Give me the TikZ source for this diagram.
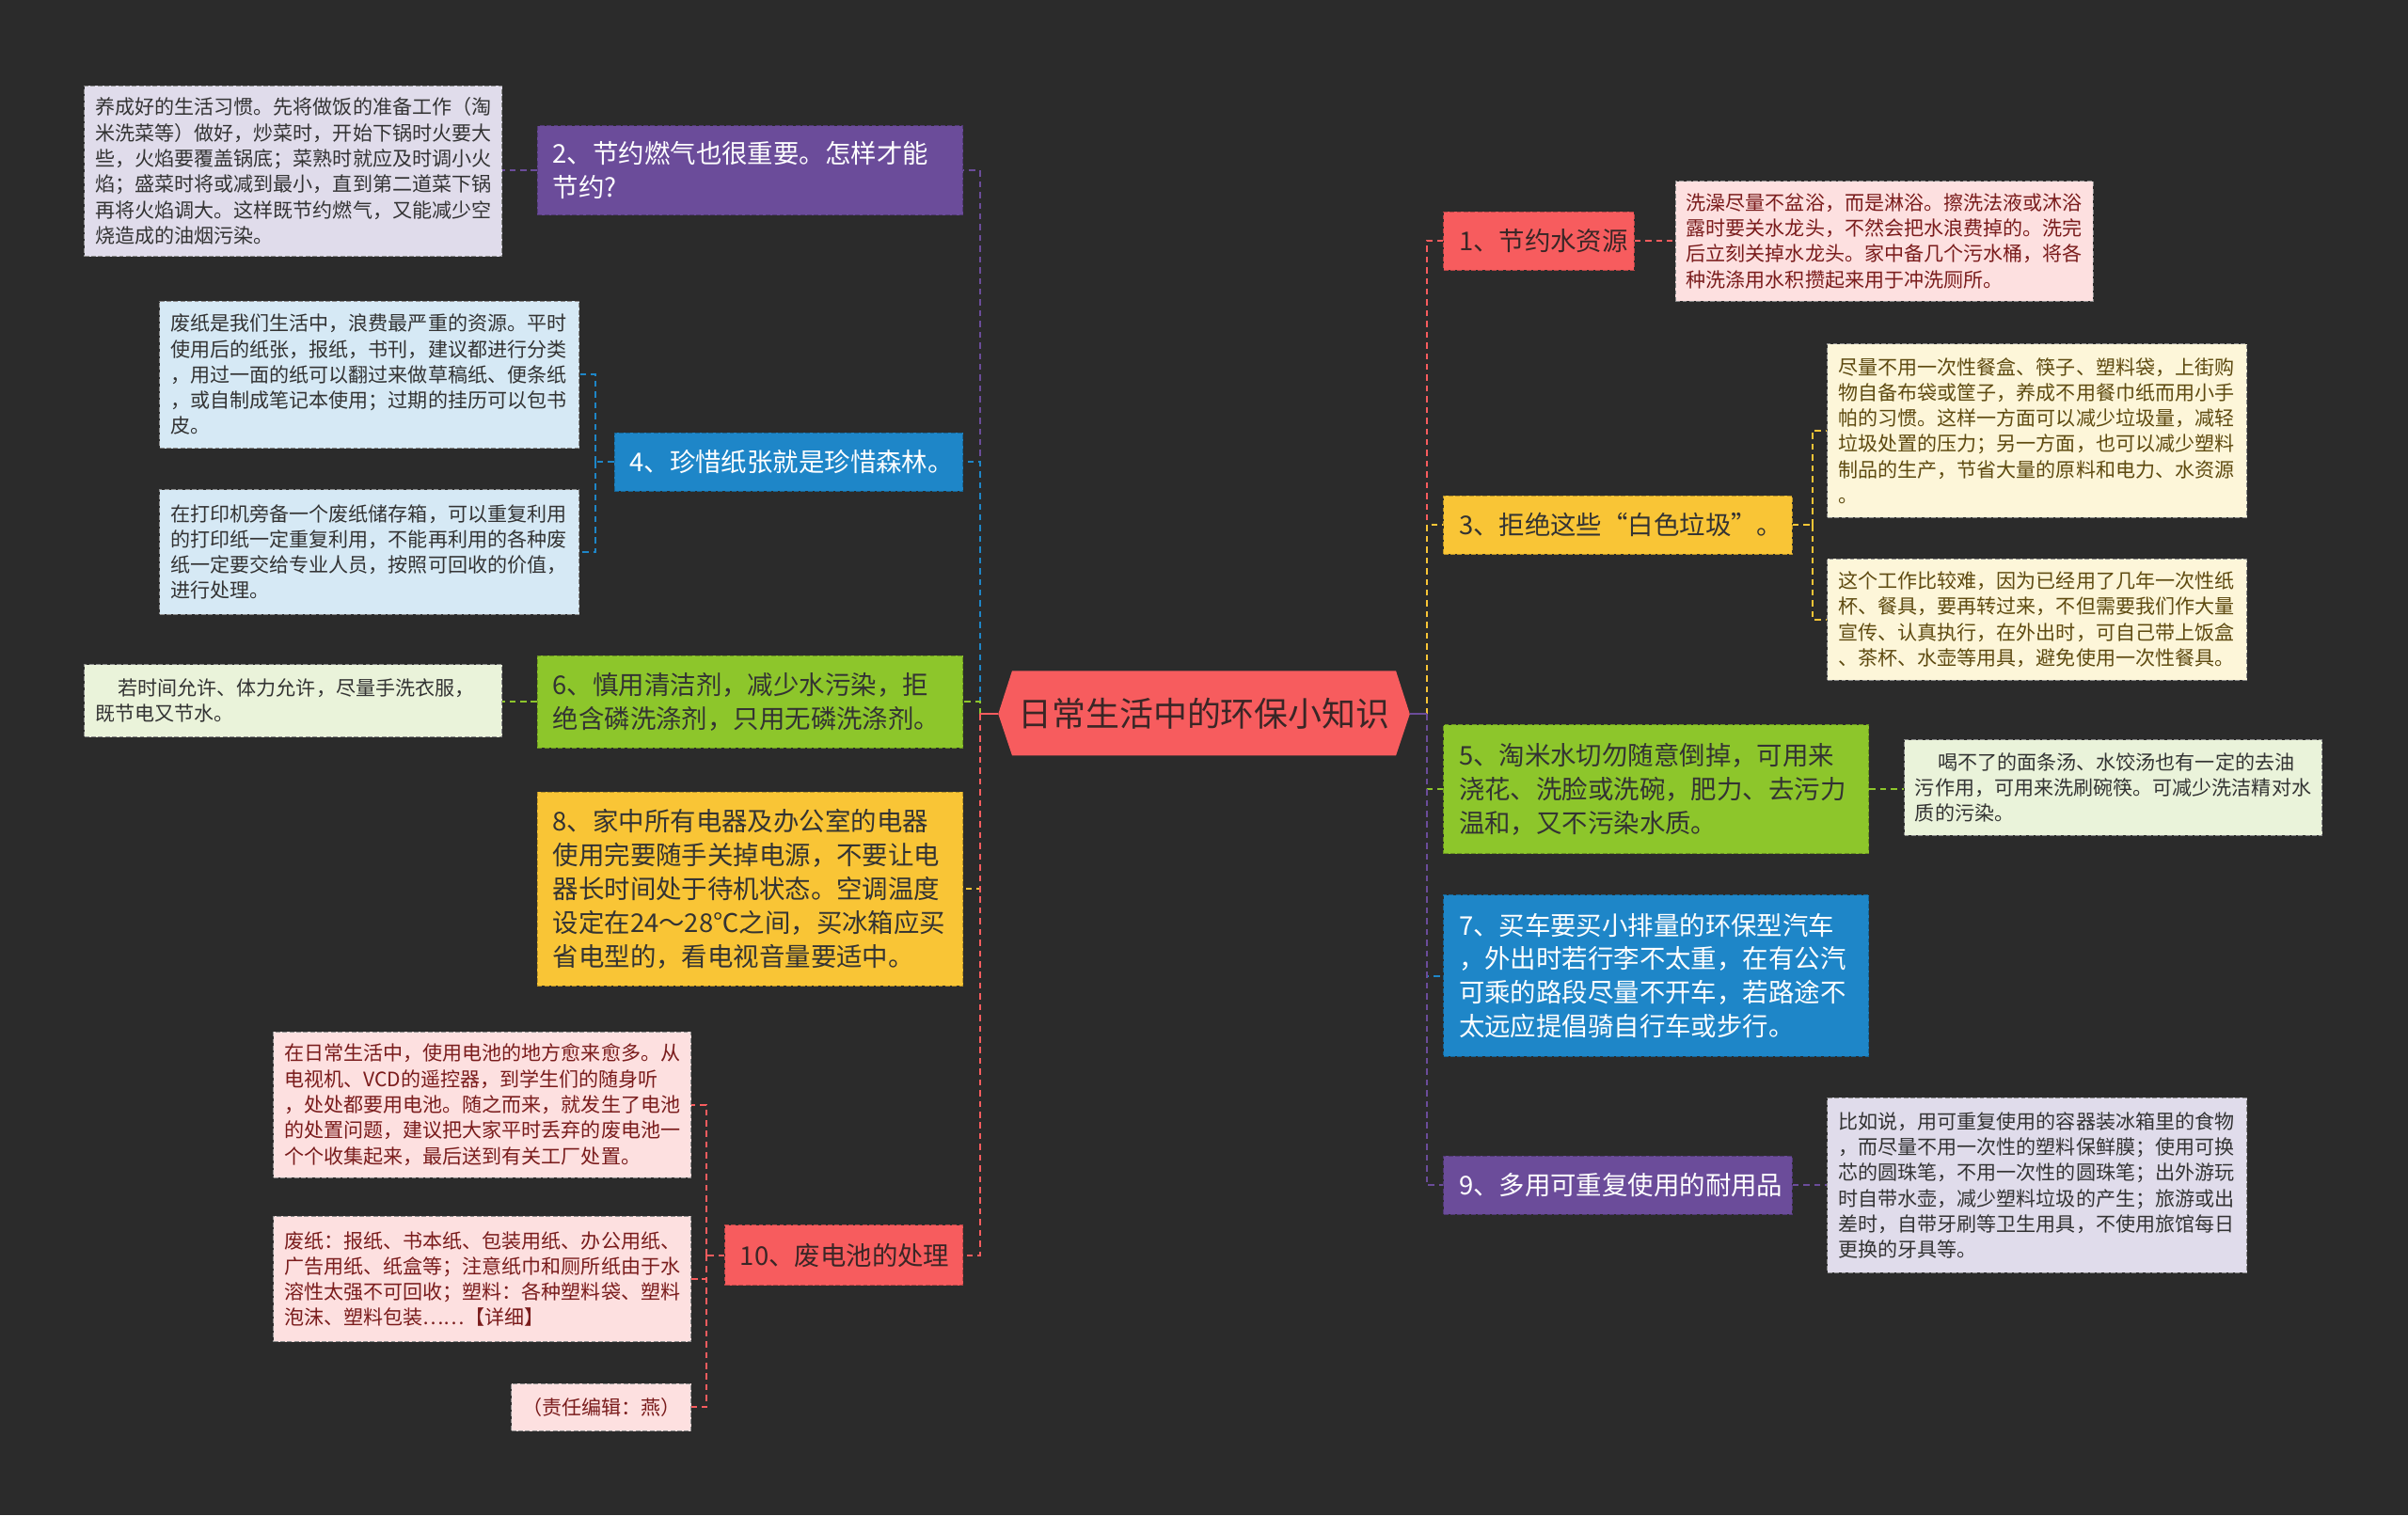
\documentclass[tikz,border=0pt]{standalone}
\usepackage{fontspec}
\setmainfont{Noto Sans CJK SC}
\definecolor{bgc}{HTML}{2B2B2B}
\definecolor{cred}{HTML}{F75C5E}
\definecolor{cpur}{HTML}{6B4C9A}
\definecolor{cblu}{HTML}{1E86C8}
\definecolor{cgrn}{HTML}{8DC62B}
\definecolor{cyel}{HTML}{F9C536}
\definecolor{lpur}{HTML}{E0DCEB}
\definecolor{lblu}{HTML}{D6E9F5}
\definecolor{lgrn}{HTML}{EAF3DA}
\definecolor{lred}{HTML}{FDE0E0}
\definecolor{lyel}{HTML}{FDF6D9}
\definecolor{tdark}{HTML}{333333}
\definecolor{tred}{HTML}{7A1C1C}
\definecolor{tyel}{HTML}{5E4A10}
\definecolor{tctr}{HTML}{3A2626}
\tikzset{
  lone/.style={rectangle, inner xsep=10pt, inner ysep=0pt, align=left,
    font=\fontsize{16.8}{22}\selectfont, fill=#1, draw=#1!75!black,
    dash pattern=on 3pt off 1.5pt, line width=0.6pt},
  leaf/.style={rectangle, inner xsep=7pt, inner ysep=0pt, align=left,
    font=\fontsize{12.9}{16.7}\selectfont, fill=#1, draw=black!45,
    dash pattern=on 3pt off 1.5pt, line width=0.6pt},
  branch/.style={draw=#1, line width=1.2pt, dash pattern=on 4pt off 3pt},
  stub/.style={draw=#1, line width=1.2pt}
}
\begin{document}
\begin{tikzpicture}[x=1pt,y=-1pt]
\fill[bgc] (0,0) rectangle (1568,987);
\useasboundingbox (0,0) rectangle (1568,987);

% central topic
\fill[cred] (650,465) -- (659,437) -- (909,437) -- (918,465) -- (909,492) -- (659,492) -- cycle;
\node[font=\fontsize{22}{26}\selectfont, text=tctr] (c) at (784,465) {日常生活中的环保小知识};
\coordinate (cL) at (650,465);
\coordinate (jL) at (638,465);
\coordinate (cR) at (918,465);
\coordinate (jR) at (929,465);

% left first-level nodes
\node[lone=cpur, text=white, minimum width=277pt, minimum height=58pt, text width=257pt] (n2) at (488.5,111) {2、节约燃气也很重要。怎样才能\\节约?};
\node[lone=cblu, text=white, minimum width=227pt, minimum height=38pt, text width=207pt] (n4) at (513.5,301) {4、珍惜纸张就是珍惜森林。};
\node[lone=cgrn, text=tdark, minimum width=277pt, minimum height=60pt, text width=257pt] (n6) at (488.5,457) {6、慎用清洁剂，减少水污染，拒\\绝含磷洗涤剂，只用无磷洗涤剂。};
\node[lone=cyel, text=tdark, minimum width=277pt, minimum height=126pt, text width=257pt] (n8) at (488.5,579) {8、家中所有电器及办公室的电器\\使用完要随手关掉电源，不要让电\\器长时间处于待机状态。空调温度\\设定在24～28℃之间，买冰箱应买\\省电型的，看电视音量要适中。};
\node[lone=cred, text=tctr, minimum width=155pt, minimum height=39pt, text width=135pt] (n10) at (549.5,817.5) {10、废电池的处理};

% right first-level nodes
\node[lone=cred, text=tctr, minimum width=124pt, minimum height=38pt, text width=104pt] (n1) at (1002,157) {1、节约水资源};
\node[lone=cyel, text=tdark, minimum width=227pt, minimum height=38pt, text width=207pt] (n3) at (1053.5,342) {3、拒绝这些“白色垃圾”。};
\node[lone=cgrn, text=tdark, minimum width=277pt, minimum height=84pt, text width=257pt] (n5) at (1078.5,514) {5、淘米水切勿随意倒掉，可用来\\浇花、洗脸或洗碗，肥力、去污力\\温和，又不污染水质。};
\node[lone=cblu, text=white, minimum width=277pt, minimum height=105pt, text width=257pt] (n7) at (1078.5,635.5) {7、买车要买小排量的环保型汽车\\，外出时若行李不太重，在有公汽\\可乘的路段尽量不开车，若路途不\\太远应提倡骑自行车或步行。};
\node[lone=cpur, text=white, minimum width=227pt, minimum height=38pt, text width=207pt] (n9) at (1053.5,772) {9、多用可重复使用的耐用品};

% left leaves
\node[leaf=lpur, text=tdark, minimum width=272pt, minimum height=111pt, text width=258pt] (l2) at (191,111.5) {养成好的生活习惯。先将做饭的准备工作（淘\\米洗菜等）做好，炒菜时，开始下锅时火要大\\些，火焰要覆盖锅底；菜熟时就应及时调小火\\焰；盛菜时将或减到最小，直到第二道菜下锅\\再将火焰调大。这样既节约燃气，又能减少空\\烧造成的油烟污染。};
\node[leaf=lblu, text=tdark, minimum width=273pt, minimum height=96pt, text width=259pt] (l4a) at (240.5,244) {废纸是我们生活中，浪费最严重的资源。平时\\使用后的纸张，报纸，书刊，建议都进行分类\\，用过一面的纸可以翻过来做草稿纸、便条纸\\，或自制成笔记本使用；过期的挂历可以包书\\皮。};
\node[leaf=lblu, text=tdark, minimum width=273pt, minimum height=81pt, text width=259pt] (l4b) at (240.5,359.5) {在打印机旁备一个废纸储存箱，可以重复利用\\的打印纸一定重复利用，不能再利用的各种废\\纸一定要交给专业人员，按照可回收的价值，\\进行处理。};
\node[leaf=lgrn, text=tdark, minimum width=272pt, minimum height=47pt, text width=258pt] (l6) at (191,456.5) {\hspace*{1.15em}若时间允许、体力允许，尽量手洗衣服，\\既节电又节水。};
\node[leaf=lred, text=tred, minimum width=272pt, minimum height=95pt, text width=258pt] (l10a) at (314,719.5) {在日常生活中，使用电池的地方愈来愈多。从\\电视机、VCD的遥控器，到学生们的随身听\\，处处都要用电池。随之而来，就发生了电池\\的处置问题，建议把大家平时丢弃的废电池一\\个个收集起来，最后送到有关工厂处置。};
\node[leaf=lred, text=tred, minimum width=272pt, minimum height=82pt, text width=258pt] (l10b) at (314,833) {废纸：报纸、书本纸、包装用纸、办公用纸、\\广告用纸、纸盒等；注意纸巾和厕所纸由于水\\溶性太强不可回收；塑料：各种塑料袋、塑料\\泡沫、塑料包装……【详细】};
\node[leaf=lred, text=tred, align=center, minimum width=117pt, minimum height=31pt, text width=103pt] (l10c) at (391.5,916.5) {（责任编辑：燕）};

% right leaves
\node[leaf=lred, text=tred, minimum width=272pt, minimum height=78pt, text width=258pt] (l1) at (1227,157) {洗澡尽量不盆浴，而是淋浴。擦洗法液或沐浴\\露时要关水龙头，不然会把水浪费掉的。洗完\\后立刻关掉水龙头。家中备几个污水桶，将各\\种洗涤用水积攒起来用于冲洗厕所。};
\node[leaf=lyel, text=tyel, minimum width=273pt, minimum height=113pt, text width=259pt] (l3a) at (1326.5,280.5) {尽量不用一次性餐盒、筷子、塑料袋，上街购\\物自备布袋或筐子，养成不用餐巾纸而用小手\\帕的习惯。这样一方面可以减少垃圾量，减轻\\垃圾处置的压力；另一方面，也可以减少塑料\\制品的生产，节省大量的原料和电力、水资源\\。};
\node[leaf=lyel, text=tyel, minimum width=273pt, minimum height=79pt, text width=259pt] (l3b) at (1326.5,403.5) {这个工作比较难，因为已经用了几年一次性纸\\杯、餐具，要再转过来，不但需要我们作大量\\宣传、认真执行，在外出时，可自己带上饭盒\\、茶杯、水壶等用具，避免使用一次性餐具。};
\node[leaf=lgrn, text=tdark, minimum width=272pt, minimum height=62pt, text width=258pt] (l5) at (1376,513) {\hspace*{1.15em}喝不了的面条汤、水饺汤也有一定的去油\\污作用，可用来洗刷碗筷。可减少洗洁精对水\\质的污染。};
\node[leaf=lpur, text=tdark, minimum width=273pt, minimum height=114pt, text width=259pt] (l9) at (1326.5,772) {比如说，用可重复使用的容器装冰箱里的食物\\，而尽量不用一次性的塑料保鲜膜；使用可换\\芯的圆珠笔，不用一次性的圆珠笔；出外游玩\\时自带水壶，减少塑料垃圾的产生；旅游或出\\差时，自带牙刷等卫生用具，不使用旅馆每日\\更换的牙具等。};

% central connectors, left
\draw[branch=cpur] (jL) |- (n2.east);
\draw[branch=cblu] (jL) |- (n4.east);
\draw[branch=cgrn] (jL) |- (n6.east);
\draw[branch=cyel] (jL) |- (n8.east);
\draw[branch=cred] (jL) |- (n10.east);
\draw[stub=cred] (cL) -- (jL);
% central connectors, right
\draw[branch=cred] (jR) |- (n1.west);
\draw[branch=cyel] (jR) |- (n3.west);
\draw[branch=cgrn] (jR) |- (n5.west);
\draw[branch=cblu] (jR) |- (n7.west);
\draw[branch=cpur] (jR) |- (n9.west);
\draw[stub=cpur] (cR) -- (jR);

% leaf connectors, left
\draw[branch=cpur] (n2.west) -- (n2.west -| l2.east);
\draw[branch=cblu] (n4.west) -- ++(-12,0) coordinate (b4);
\draw[branch=cblu] (b4) |- (l4a.east);
\draw[branch=cblu] (b4) |- (l4b.east);
\draw[branch=cgrn] (n6.west) -- (n6.west -| l6.east);
\draw[branch=cred] (n10.west) -- ++(-12,0) coordinate (b10);
\draw[branch=cred] (b10) |- (l10a.east);
\draw[branch=cred] (b10) |- (l10b.east);
\draw[branch=cred] (b10) |- (l10c.east);
% leaf connectors, right
\draw[branch=cred] (n1.east) -- (n1.east -| l1.west);
\draw[branch=cyel] (n3.east) -- ++(13,0) coordinate (b3);
\draw[branch=cyel] (b3) |- (l3a.west);
\draw[branch=cyel] (b3) |- (l3b.west);
\draw[branch=cgrn] (n5.east) -- (n5.east -| l5.west);
\draw[branch=cpur] (n9.east) -- (n9.east -| l9.west);
\end{tikzpicture}
\end{document}
